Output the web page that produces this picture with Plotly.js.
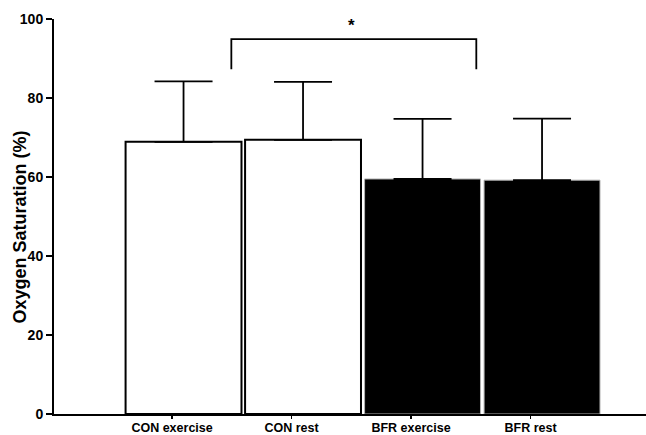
<!DOCTYPE html>
<html>
<head>
<meta charset="utf-8">
<script src="https://cdn.plot.ly/plotly-3.0.1.min.js"></script>
<style>html,body{margin:0;padding:0;background:#fff;}#chart{width:646px;height:435px;}</style>
</head>
<body>
<div id="chart"></div>
<script>
const categories = ["CON exercise", "CON rest", "BFR exercise", "BFR rest"];
const means = [68.9, 69.4, 59.5, 59.2];
const sds = [15.3, 14.7, 15.2, 15.6];
const fillColors = ["#ffffff", "#ffffff", "#000000", "#000000"];
const lineColors = ["#000000", "#000000", "#b0b0b0", "#b0b0b0"];
const lineWidths = [2, 2, 1, 1];
const yTicks = [0, 20, 40, 60, 80, 100];
const yTitle = "Oxygen Saturation (%)";
const sigPair = [0.4, 2.45];
const sigLevels = [87.3, 94.9];
const sigLabel = "*";

const xIdx = categories.map((c, i) => i);
const tickOffset = -0.096;

const FONT = "Liberation Sans, Arial, sans-serif";

const trace = {
  type: "bar",
  x: xIdx,
  y: means,
  width: 0.97,
  marker: { color: fillColors, line: { color: lineColors, width: lineWidths } },
  error_y: { type: "data", symmetric: false, array: sds, arrayminus: sds.map(() => 0),
             color: "#000", thickness: 1.8, width: 29 },
  hoverinfo: "none"
};

const layout = {
  width: 646, height: 435,
  margin: { l: 54, r: 0, t: 19, b: 21, pad: 0 },
  paper_bgcolor: "#fff", plot_bgcolor: "#fff",
  showlegend: false,
  font: { family: FONT, color: "#000" },
  xaxis: {
    range: [-1.084, 3.87],
    tickmode: "array",
    tickvals: xIdx.map(i => i + tickOffset),
    ticktext: categories.map(c => "<b>" + c + "</b>"),
    ticks: "outside", ticklen: 3, tickwidth: 1.5, tickcolor: "#000",
    ticklabelstandoff: -2,
    showline: true, linecolor: "#000", linewidth: 2,
    showgrid: false, zeroline: false,
    tickfont: { family: FONT, size: 12.5, color: "#000" },
    automargin: false, fixedrange: true
  },
  yaxis: {
    range: [0, 100],
    tickmode: "array",
    tickvals: yTicks,
    ticktext: yTicks.map(v => "<b>" + v + "</b>"),
    ticks: "outside", ticklen: 6, tickwidth: 2, tickcolor: "#000",
    showline: true, linecolor: "#000", linewidth: 2,
    showgrid: false, zeroline: false,
    tickfont: { family: FONT, size: 14, color: "#000" },
    automargin: false, fixedrange: true
  },
  shapes: [
    { type: "path", xref: "x", yref: "y",
      path: "M " + sigPair[0] + " " + sigLevels[0] + " L " + sigPair[0] + " " + sigLevels[1] +
            " L " + sigPair[1] + " " + sigLevels[1] + " L " + sigPair[1] + " " + sigLevels[0],
      line: { color: "#000", width: 1.8 } }
  ],
  annotations: [
    { x: (sigPair[0] + sigPair[1]) / 2 - 0.016, y: sigLevels[1], xref: "x", yref: "y",
      text: "<b>" + sigLabel + "</b>", showarrow: false, yanchor: "bottom", yshift: 2,
      font: { family: FONT, size: 17, color: "#000" } },
    { x: -0.0574, y: 0.472, xref: "paper", yref: "paper", xanchor: "center", yanchor: "middle",
      textangle: -90, showarrow: false, text: "<b>" + yTitle + "</b>",
      font: { family: FONT, size: 18, color: "#000" } }
  ]
};

Plotly.newPlot("chart", [trace], layout, { displayModeBar: false, staticPlot: true });
</script>
</body>
</html>
